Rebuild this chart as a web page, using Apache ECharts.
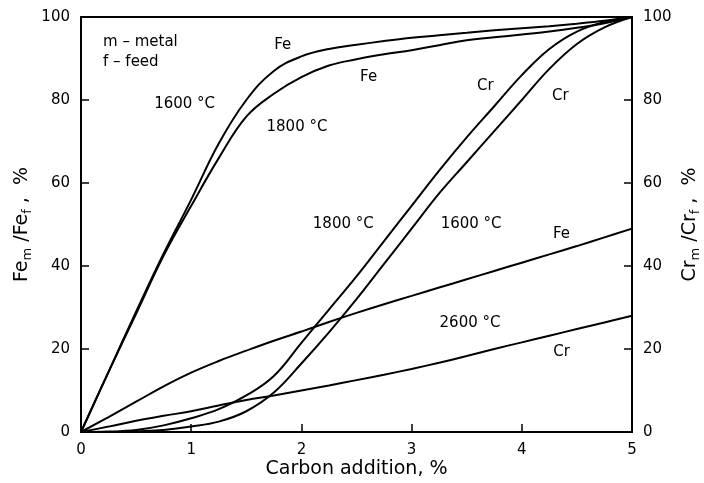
<!DOCTYPE html>
<html>
<head>
<meta charset="utf-8">
<script src="https://cdn.jsdelivr.net/npm/echarts@6/dist/echarts.min.js"></script>
<style>
  html, body { margin: 0; padding: 0; background: #fff; }
  #chart { width: 704px; height: 483px; }
</style>
</head>
<body>
<div id="chart"></div>
<script>
// carbon addition, % (shared x grid)
const carbon = [0, 0.25, 0.5, 0.75, 1, 1.25, 1.5, 1.75, 2, 2.25, 2.5, 2.75, 3, 3.25, 3.5, 3.75, 4, 4.25, 4.5, 4.75, 5]

// Fe recovery, %
const fe1600 = [0, 14.5, 29, 43, 56, 69.5, 80, 87, 90.5, 92.3, 93.3, 94.2, 95, 95.6, 96.2, 96.8, 97.3, 97.8, 98.4, 99.1, 100]
const fe1800 = [0, 14.5, 28.5, 42.5, 54.5, 66, 76, 81.5, 85.5, 88.3, 89.8, 91, 92, 93.2, 94.4, 95.1, 95.8, 96.5, 97.4, 98.5, 100]
const fe2600 = [0, 3.6, 7.3, 11, 14.3, 17.1, 19.6, 22, 24.2, 26.5, 28.7, 30.8, 32.8, 34.8, 36.8, 38.8, 40.8, 42.8, 44.8, 46.9, 49]

// Cr recovery, %
const cr1600 = [0, 0, 0.2, 0.5, 1.3, 2.5, 5, 9.5, 16.5, 24, 32, 40.5, 49, 57.5, 65, 72.5, 80, 87.5, 93.5, 97.5, 100]
const cr1800 = [0, 0.1, 0.5, 1.6, 3.3, 5.5, 8.8, 13.5, 21.5, 29.5, 37.5, 46, 54.5, 63, 71, 78.5, 86, 92.3, 96.5, 98.8, 100]
const cr2600 = [0, 1.3, 2.7, 3.9, 5, 6.4, 7.7, 8.8, 10, 11.2, 12.5, 13.8, 15.2, 16.7, 18.3, 20, 21.6, 23.2, 24.8, 26.4, 28]

// text notes placed at data coordinates: [text, carbon, percent, align]
const notes = [
  ['m – metal', 0.2, 94, 'left'],
  ['f – feed', 0.2, 89.2, 'left'],
  ['1600 °C', 0.94, 79, 'center'],
  ['Fe', 1.83, 93.3, 'center'],
  ['1800 °C', 1.96, 73.5, 'center'],
  ['Fe', 2.61, 85.5, 'center'],
  ['1800 °C', 2.38, 50.1, 'center'],
  ['1600 °C', 3.54, 50.1, 'center'],
  ['Cr', 3.67, 83.4, 'center'],
  ['Cr', 4.35, 81, 'center'],
  ['Fe', 4.36, 47.7, 'center'],
  ['2600 °C', 3.53, 26.3, 'center'],
  ['Cr', 4.36, 19.3, 'center'],
]

const FONT = 'DejaVu Sans'
const pairs = ys => carbon.map((c, i) => [c, ys[i]])

const curve = (name, ys, axis) => ({
  name,
  type: 'line',
  yAxisIndex: axis,
  data: pairs(ys),
  showSymbol: false,
  smooth: 0.4,
  silent: true,
  lineStyle: { color: '#000', width: 2 },
})

const nameRich = {
  a: { fontFamily: FONT, fontSize: 19, color: '#000', lineHeight: 24 },
  b: { fontFamily: FONT, fontSize: 13, color: '#000', verticalAlign: 'bottom', lineHeight: 12 },
}

const yAxisBase = {
  type: 'value',
  min: 0,
  max: 100,
  interval: 20,
  nameLocation: 'middle',
  nameRotate: 90,
  nameMoveOverlap: false,
  nameTextStyle: { rich: nameRich },
  axisLine: { show: true, lineStyle: { color: '#000', width: 2 } },
  axisTick: { show: true, inside: true, length: 8, lineStyle: { color: '#000', width: 1.5 } },
  axisLabel: { fontFamily: FONT, fontSize: 15, color: '#000', margin: 11 },
  splitLine: { show: false },
}

const chart = echarts.init(document.getElementById('chart'), null, { renderer: 'canvas' })

chart.setOption({
  backgroundColor: '#fff',
  animation: false,
  grid: {
    left: 81, right: 72, top: 17, bottom: 51,
    outerBoundsMode: 'none',
    show: true, borderColor: '#000', borderWidth: 2,
  },
  xAxis: {
    type: 'value',
    min: 0,
    max: 5,
    interval: 1,
    name: 'Carbon addition, %',
    nameLocation: 'middle',
    nameGap: 28,
    nameMoveOverlap: false,
    nameTextStyle: { fontFamily: FONT, fontSize: 19, color: '#000' },
    axisLine: { show: true, lineStyle: { color: '#000', width: 2 } },
    axisTick: { show: true, inside: true, length: 8, lineStyle: { color: '#000', width: 1.5 } },
    axisLabel: { fontFamily: FONT, fontSize: 15, color: '#000', margin: 11 },
    splitLine: { show: false },
  },
  yAxis: [
    Object.assign({}, yAxisBase, {
      position: 'left',
      name: '{a|Fe}{b|m}{a| /Fe}{b|f}{a| ,  %}',
      nameGap: 47,
    }),
    Object.assign({}, yAxisBase, {
      position: 'right',
      name: '{a|Cr}{b|m}{a| /Cr}{b|f}{a| ,  %}',
      nameGap: 46,
    }),
  ],
  series: [
    curve('Fe 1600', fe1600, 0),
    curve('Fe 1800', fe1800, 0),
    curve('Fe 2600', fe2600, 0),
    curve('Cr 1600', cr1600, 1),
    curve('Cr 1800', cr1800, 1),
    curve('Cr 2600', cr2600, 1),
  ],
})

// notes: positioned through the chart's own axes
chart.setOption({
  graphic: notes.map(n => {
    const p = chart.convertToPixel({ gridIndex: 0 }, [n[1], n[2]])
    return {
      type: 'text',
      x: p[0],
      y: p[1],
      silent: true,
      style: {
        text: n[0],
        fill: '#000',
        font: '15px "DejaVu Sans"',
        align: n[3],
        verticalAlign: 'middle',
      },
    }
  }),
})
</script>
</body>
</html>
